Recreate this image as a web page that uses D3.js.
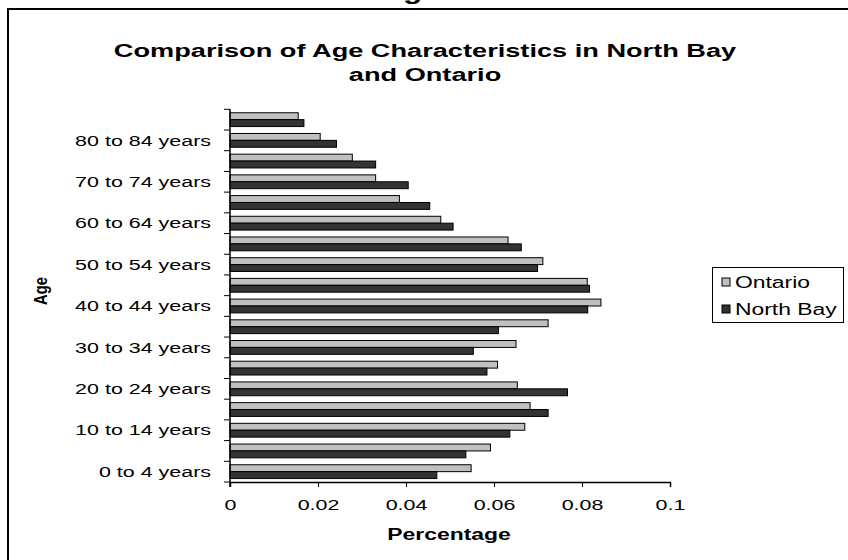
<!DOCTYPE html>
<html lang="en">
<head>
<meta charset="UTF-8">
<title>Comparison of Age Characteristics in North Bay and Ontario</title>
<style>
  body { margin: 0; background: #fff; }
  svg text { font-family: "Liberation Sans", Arial, sans-serif; }
</style>
</head>
<body>
<script src="https://d3js.org/d3.v7.min.js"></script>
<script>
// age groups, bottom to top
var ages = ["0 to 4 years", "5 to 9 years", "10 to 14 years", "15 to 19 years", "20 to 24 years",
  "25 to 29 years", "30 to 34 years", "35 to 39 years", "40 to 44 years", "45 to 49 years",
  "50 to 54 years", "55 to 59 years", "60 to 64 years", "65 to 69 years", "70 to 74 years",
  "75 to 79 years", "80 to 84 years", "85 years and over"];

var ontario  = [0.0548, 0.0592, 0.0670, 0.0682, 0.0653, 0.0608, 0.0650, 0.0723, 0.0843, 0.0812,
  0.0711, 0.0632, 0.0479, 0.0385, 0.0331, 0.0278, 0.0205, 0.0155];
var northBay = [0.0470, 0.0536, 0.0636, 0.0723, 0.0767, 0.0584, 0.0553, 0.0610, 0.0813, 0.0817,
  0.0699, 0.0662, 0.0507, 0.0454, 0.0405, 0.0331, 0.0242, 0.0168];

var series = ["Ontario", "North Bay"];
var xTicks = [0, 0.02, 0.04, 0.06, 0.08, 0.1];

var rows = ages.map(function(a, i) {
  return {age: a, "Ontario": ontario[i], "North Bay": northBay[i]};
});

var W = 848, H = 560;
// plot box (the old picture is stretched sideways, so text gets a x-scale too)
var plot = {left: 230, right: 670, top: 109.3, bottom: 482};
var SX = 1.43;

function stretch(sel, x, y) {
  sel.attr("transform", "translate(" + x + "," + y + ") scale(" + SX + ",1)");
}

var svg = d3.select("body").append("svg")
  .attr("width", W).attr("height", H);

// outer chart border (runs off the right and bottom of the picture)
svg.append("rect")
  .attr("x", 8).attr("y", 9)
  .attr("width", 860).attr("height", 580)
  .attr("fill", "none").attr("stroke", "#000").attr("stroke-width", 2);

// clipped heading above the frame
svg.append("text")
  .attr("text-anchor", "middle")
  .attr("font-size", "22px").attr("font-weight", "bold")
  .text("Age")
  .call(stretch, 410, -1);

svg.append("text")
  .attr("text-anchor", "middle")
  .attr("font-size", "19px").attr("font-weight", "bold")
  .text("Comparison of Age Characteristics in North Bay")
  .call(stretch, 425, 57);
svg.append("text")
  .attr("text-anchor", "middle")
  .attr("font-size", "19px").attr("font-weight", "bold")
  .text("and Ontario")
  .call(stretch, 425, 81);

var x = d3.scaleLinear().domain([0, 0.1]).range([plot.left, plot.right]);
var y = d3.scaleBand().domain(ages.slice().reverse()).range([plot.top, plot.bottom]);
var y1 = d3.scaleBand().domain(series).range([0, y.bandwidth()]).paddingOuter(0.5).paddingInner(0);

var colors = {"Ontario": "#c0c0c0", "North Bay": "#333333"};

svg.append("g").selectAll("g.row")
  .data(rows)
  .enter().append("g")
  .attr("class", "row")
  .attr("transform", function(d) { return "translate(0," + y(d.age) + ")"; })
  .selectAll("rect")
  .data(function(d) { return series.map(function(s) { return {key: s, value: d[s]}; }); })
  .enter().append("rect")
  .attr("x", x(0))
  .attr("y", function(d) { return y1(d.key); })
  .attr("width", function(d) { return x(d.value) - x(0); })
  .attr("height", y1.bandwidth())
  .attr("fill", function(d) { return colors[d.key]; })
  .attr("stroke", "#000").attr("stroke-width", 1);

// x axis
var xAxis = svg.append("g")
  .attr("transform", "translate(0," + plot.bottom + ")")
  .call(d3.axisBottom(x).tickValues(xTicks).tickSize(5)
    .tickFormat(function(d) { return d === 0 ? "0" : String(+d.toFixed(2)); }));
xAxis.select(".domain").attr("stroke", "#000").attr("stroke-width", 1.5);
xAxis.selectAll(".tick line").attr("stroke", "#000");
xAxis.selectAll("text")
  .attr("font-size", "15px").attr("font-family", "Liberation Sans, Arial, sans-serif")
  .attr("fill", "#000")
  .attr("y", 0).attr("dy", 0)
  .attr("transform", "translate(0,28) scale(" + SX + ",1)");

// y axis: ticks on category boundaries, label every other group
var yAxisG = svg.append("g").attr("transform", "translate(" + plot.left + ",0)");
yAxisG.append("line")
  .attr("x1", 0).attr("x2", 0).attr("y1", plot.top).attr("y2", plot.bottom + 5)
  .attr("stroke", "#000").attr("stroke-width", 1.5);
var bounds = ages.map(function(a) { return y(a); }).concat([plot.bottom]);
yAxisG.selectAll("line.tick")
  .data(bounds)
  .enter().append("line")
  .attr("class", "tick")
  .attr("x1", -6).attr("x2", 0)
  .attr("y1", function(d) { return d; }).attr("y2", function(d) { return d; })
  .attr("stroke", "#000").attr("stroke-width", 1);
yAxisG.selectAll("text")
  .data(ages.filter(function(a, i) { return i % 2 === 0; }))
  .enter().append("text")
  .attr("dy", "0.35em")
  .attr("text-anchor", "end")
  .attr("font-size", "15px")
  .text(function(d) { return d; })
  .each(function(d) { d3.select(this).call(stretch, -19, y(d) + y.bandwidth() / 2); });

// axis titles
svg.append("text")
  .attr("text-anchor", "middle")
  .attr("font-size", "16px").attr("font-weight", "bold")
  .text("Percentage")
  .call(stretch, 449, 540);
svg.append("text")
  .attr("transform", "translate(47,291) rotate(-90) scale(1.05,1.35)")
  .attr("text-anchor", "middle")
  .attr("font-size", "14px").attr("font-weight", "bold")
  .text("Age");

// legend
var lg = svg.append("g");
lg.append("rect")
  .attr("x", 712.5).attr("y", 267.5).attr("width", 131).attr("height", 55)
  .attr("fill", "#fff").attr("stroke", "#000").attr("stroke-width", 1);
lg.selectAll("g.item")
  .data(series)
  .enter().append("g")
  .attr("class", "item")
  .attr("transform", function(d, i) { return "translate(722," + (282 + i * 27) + ")"; })
  .each(function(d) {
    var it = d3.select(this);
    it.append("rect").attr("x", 0).attr("y", -4).attr("width", 8).attr("height", 8)
      .attr("fill", colors[d]).attr("stroke", "#000").attr("stroke-width", 1);
    it.append("text").attr("dy", "0.35em")
      .attr("font-size", "16px").text(d)
      .call(stretch, 13, 0);
  });
</script>
</body>
</html>
